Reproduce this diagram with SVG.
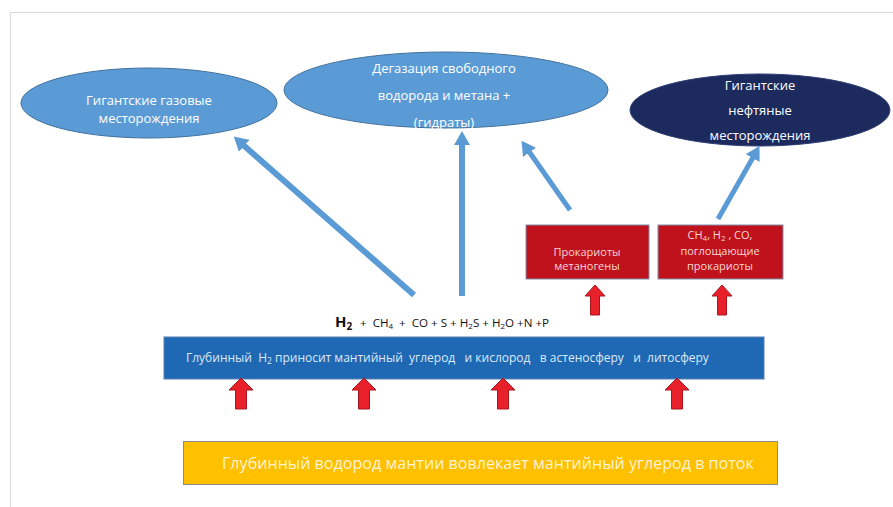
<svg xmlns="http://www.w3.org/2000/svg" xmlns:xlink="http://www.w3.org/1999/xlink" width="893" height="507" viewBox="0 0 893 507">
<style>
.lbl{font-family:"Open Sans","Noto Sans","Liberation Sans",sans-serif;fill:#ffffff;text-anchor:middle}
.ell{stroke:#41719c;stroke-width:1}
.conn{stroke:#5b9bd5;fill:none}
.redbox{fill:#c0121c;stroke:#7f8fa9;stroke-width:1}
.boxtxt{font-family:"Open Sans","Noto Sans","Liberation Sans",sans-serif;fill:#f6d6d6;font-size:11px;text-anchor:middle}
.frm{stroke:#d9d9d9;stroke-width:1;fill:none}
</style>
<defs>
<marker id="ah" markerUnits="userSpaceOnUse" viewBox="0 0 14 16" markerWidth="14" markerHeight="16" refX="1" refY="8" orient="auto">
<path d="M0,0 L14,8 L0,16 Z" fill="#5b9bd5"/>
</marker>
<path id="redup" d="M0,0 L12,12 L5.5,12 L5.5,31 L-5.5,31 L-5.5,12 L-12,12 Z" fill="#e8202a" stroke="#a8161f" stroke-width="1"/>
<path id="redup2" d="M0,0 L10,11 L4.5,11 L4.5,30 L-4.5,30 L-4.5,11 L-10,11 Z" fill="#e8202a" stroke="#a8161f" stroke-width="1"/>
</defs>
<rect width="893" height="507" fill="#ffffff"/>
<path class="frm" d="M10.5,507 L10.5,12.5 L893,12.5"/>

<g id="gas">
<ellipse class="ell" cx="149" cy="103" rx="128" ry="35" fill="#5b9bd5"/>
<text class="lbl" font-size="13" x="149" y="105">Гигантские газовые</text>
<text class="lbl" font-size="13" x="149" y="123">месторождения</text>
</g>
<g id="degas">
<ellipse class="ell" cx="446" cy="90" rx="162" ry="38" fill="#5b9bd5"/>
<text class="lbl" font-size="13" x="444" y="73">Дегазация свободного</text>
<text class="lbl" font-size="13" x="444" y="100">водорода и метана +</text>
<text class="lbl" font-size="13" x="444" y="127">(гидраты)</text>
</g>
<g id="oil">
<ellipse cx="760" cy="110" rx="130" ry="36" fill="#1c2a5e" stroke="#2f3f75" stroke-width="1"/>
<text class="lbl" font-size="13" x="760" y="90">Гигантские</text>
<text class="lbl" font-size="13" x="760" y="115">нефтяные</text>
<text class="lbl" font-size="13" x="760" y="140">месторождения</text>
</g>

<g id="methanogens">
<rect class="redbox" x="526" y="225" width="123" height="54"/>
<text class="boxtxt" x="587" y="256">Прокариоты</text>
<text class="boxtxt" x="587" y="270">метаногены</text>
</g>
<g id="absorbers">
<rect class="redbox" x="658" y="225" width="125" height="54"/>
<text class="boxtxt" x="720" y="239">CH<tspan font-size="8" dy="2">4</tspan><tspan dy="-2">, H</tspan><tspan font-size="8" dy="2">2</tspan><tspan dy="-2"> , CO,</tspan></text>
<text class="boxtxt" x="720" y="255">поглощающие</text>
<text class="boxtxt" x="720" y="270">прокариоты</text>
</g>

<g id="formula" font-family="'Open Sans','Noto Sans','Liberation Sans',sans-serif" fill="#111111">
<text x="335" y="327" font-size="15" font-weight="bold">H<tspan font-size="10" dy="3">2</tspan></text>
<text x="360" y="327" font-size="11.6" xml:space="preserve">+  CH<tspan font-size="8" dy="2">4</tspan><tspan dy="-2">  +  CO + S + H</tspan><tspan font-size="8" dy="2">2</tspan><tspan dy="-2">S + H</tspan><tspan font-size="8" dy="2">2</tspan><tspan dy="-2">O +N +P</tspan></text>
</g>

<g id="mantle-flow">
<rect x="164" y="337" width="600" height="42" fill="#1f68b4" stroke="#5a7fb0" stroke-width="1"/>
<text x="186" y="362" font-family="'Open Sans','Noto Sans','Liberation Sans',sans-serif" font-size="12" fill="#dde9f6" xml:space="preserve">Глубинный  H<tspan font-size="8.5" dy="2">2</tspan><tspan dy="-2"> приносит мантийный  углерод   и кислород   в астеносферу   и  литосферу</tspan></text>
</g>

<g id="deep-hydrogen">
<rect x="183.5" y="441.5" width="594" height="43" fill="#ffc000" stroke="#8c8c8c" stroke-width="1"/>
<text x="222" y="469" font-family="'Open Sans','Noto Sans','Liberation Sans',sans-serif" font-size="16.1" fill="#fff3d2">Глубинный водород мантии вовлекает мантийный углерод в поток</text>
</g>

<g id="connectors">
<line class="conn" stroke-width="6" x1="414" y1="295" x2="243.5" y2="145.2" marker-end="url(#ah)"/>
<line class="conn" stroke-width="6" x1="462" y1="296" x2="462" y2="144" marker-end="url(#ah)"/>
<line class="conn" stroke-width="5" x1="570" y1="210" x2="529" y2="151.5" marker-end="url(#ah)"/>
<line class="conn" stroke-width="5" x1="718" y1="219" x2="753.1" y2="157.2" marker-end="url(#ah)"/>
<use xlink:href="#redup2" x="595" y="285"/>
<use xlink:href="#redup2" x="722" y="285"/>
<use xlink:href="#redup" x="241" y="378"/>
<use xlink:href="#redup" x="364" y="378"/>
<use xlink:href="#redup" x="503" y="378"/>
<use xlink:href="#redup" x="677" y="378"/>
</g>
</svg>
